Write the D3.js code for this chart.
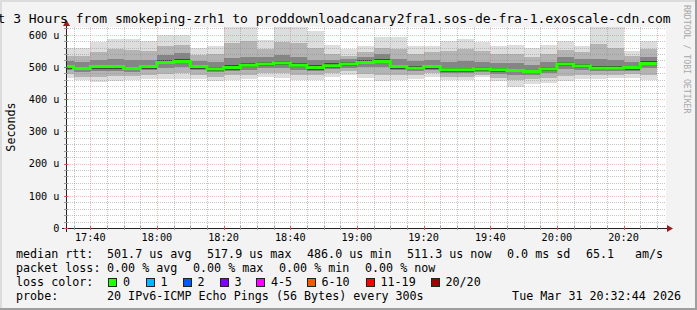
<!DOCTYPE html>
<html>
<head>
<meta charset="utf-8">
<script src="https://cdn.jsdelivr.net/npm/d3@7"></script>
<style>
  html, body { margin: 0; padding: 0; background: #f3f3f3; }
  svg { display: block; }
  text { font-family: "DejaVu Sans Mono", monospace; fill: #000; }
</style>
</head>
<body>
<div id="chart"></div>
<script>
// smokeping graph, 5 minute steps, values in microseconds
const title = "Last 3 Hours from smokeping-zrh1 to proddownloadcanary2fra1.sos-de-fra-1.exoscale-cdn.com";
const median  = [501,495,501,501,495,501,514,517,501,494,498,505,509,512,505,498,504,509,514,517,501,496,501,491,491,494,491,489,486,494,509,503,496,496,498,511];
const pingMax = [559,559,576,587,587,579,598,600,559,566,640,640,584,640,640,611,567,555,564,592,592,566,564,579,588,576,566,569,558,569,579,566,640,640,551,579];
const pingMin = [466,458,452,457,460,462,462,462,462,457,460,462,470,465,460,460,468,476,465,457,460,462,470,460,460,468,455,439,447,450,457,462,462,465,465,460];
const midHi   = [535,534,547,555,553,550,565,568,538,540,575,580,555,578,575,560,540,535,545,560,555,540,545,550,555,548,540,540,530,540,552,545,570,560,535,555];
const midLo   = [478,470,470,472,472,476,478,480,474,470,474,476,482,480,474,474,480,486,478,475,474,474,480,470,470,476,466,460,462,466,472,476,476,476,478,476];
const innerHi = [518,514,522,525,522,522,538,542,520,515,528,532,530,538,532,522,522,526,532,540,525,518,522,515,518,516,512,512,506,514,530,524,525,522,516,532];
const innerLo = [490,484,488,488,485,490,498,500,489,484,487,492,496,498,492,487,493,498,500,500,489,486,490,480,480,484,478,476,474,482,494,490,486,486,488,496];
const coreHi  = [506,501,507,507,501,507,521,524,507,500,505,512,516,519,512,505,511,516,521,524,507,502,507,497,497,500,497,495,492,500,516,510,502,502,504,518];
const coreLo  = [495,489,495,495,489,495,508,511,495,488,492,499,503,506,499,492,498,503,508,511,495,490,495,485,485,488,485,483,480,488,503,497,490,490,492,505];

const yTicks = [0, 100, 200, 300, 400, 500, 600];
const lossLabels = ["0", "1", "2", "3", "4-5", "6-10", "11-19", "20/20"];
const lossColors = ["#26ff00", "#00b8ff", "#0059ff", "#7e00ff", "#ff00ff", "#ff5500", "#ff0000", "#a10000"];
const rttStats = ["501.7 us avg", "517.9 us max", "486.0 us min", "511.3 us now", "0.0 ms sd"];
const lossStats = ["0.00 % avg", "0.00 % max", "0.00 % min", "0.00 % now"];

const width = 697, height = 310;
const plot = { left: 66, right: 666, top: 27, bottom: 228 };
const step = 300 * 1000;
const endTime = new Date(Date.UTC(2026, 2, 31, 20, 32, 44));
const startTime = new Date(+endTime - 3 * 3600 * 1000);
const firstStep = Date.UTC(2026, 2, 31, 17, 30, 0);

const svg = d3.select('#chart').append('svg')
    .attr('width', width)
    .attr('height', height);

// background + 3d border
svg.append('rect').attr('width', width).attr('height', height).attr('fill', '#f3f3f3');
svg.append('rect').attr('x', 0).attr('y', 0).attr('width', width).attr('height', 2).attr('fill', '#dcdcdc');
svg.append('rect').attr('x', 0).attr('y', 0).attr('width', 2).attr('height', height).attr('fill', '#dcdcdc');
svg.append('rect').attr('x', 0).attr('y', height - 2).attr('width', width).attr('height', 2).attr('fill', '#9e9e9e');
svg.append('rect').attr('x', width - 2).attr('y', 0).attr('width', 2).attr('height', height).attr('fill', '#9e9e9e');

const x = d3.scaleUtc().domain([startTime, endTime]).range([plot.left, plot.right]);
const y = d3.scaleLinear().domain([0, 624]).range([plot.bottom, plot.top]);

svg.append('rect')
    .attr('x', plot.left).attr('y', plot.top)
    .attr('width', plot.right - plot.left).attr('height', plot.bottom - plot.top)
    .attr('fill', '#fff');

svg.append('clipPath').attr('id', 'clip')
  .append('rect')
    .attr('x', plot.left).attr('y', plot.top)
    .attr('width', plot.right - plot.left).attr('height', plot.bottom - plot.top);

const cols = median.map((m, i) => ({
    t0: new Date(firstStep + i * step),
    t1: new Date(firstStep + (i + 1) * step),
    i: i
}));

// smoke, outer band first
const bands = [
    { lo: pingMin, hi: pingMax, color: '#dddddd' },
    { lo: midLo, hi: midHi, color: '#b4b4b4' },
    { lo: innerLo, hi: innerHi, color: '#858585' },
    { lo: coreLo, hi: coreHi, color: '#454545' }
];
const smoke = svg.append('g').attr('clip-path', 'url(#clip)');
bands.forEach(b => {
    smoke.append('g').selectAll('rect')
        .data(cols)
        .enter()
        .append('rect')
        .attr('x', d => x(d.t0))
        .attr('width', d => x(d.t1) - x(d.t0))
        .attr('y', d => y(b.hi[d.i]))
        .attr('height', d => y(b.lo[d.i]) - y(b.hi[d.i]))
        .attr('fill', b.color)
        .attr('shape-rendering', 'crispEdges');
});

// grid on top of the smoke
const grid = svg.append('g').attr('shape-rendering', 'crispEdges');
const minorX = x.ticks(d3.utcMinute.every(5));
const majorX = x.ticks(d3.utcMinute.every(20));
const minorY = d3.range(20, 621, 20).filter(v => v % 100 !== 0);
const minorColor = 'rgba(140,140,140,0.5)';
const majorColor = 'rgba(240,90,90,0.42)';

grid.selectAll('.vminor').data(minorX.filter(t => t.getUTCMinutes() % 20 !== 0)).enter()
    .append('line')
    .attr('x1', d => Math.round(x(d)) + 0.5).attr('x2', d => Math.round(x(d)) + 0.5)
    .attr('y1', plot.top).attr('y2', plot.bottom)
    .attr('stroke', minorColor).attr('stroke-dasharray', '1,1');
grid.selectAll('.hminor').data(minorY).enter()
    .append('line')
    .attr('x1', plot.left).attr('x2', plot.right)
    .attr('y1', d => Math.round(y(d)) + 0.5).attr('y2', d => Math.round(y(d)) + 0.5)
    .attr('stroke', minorColor).attr('stroke-dasharray', '1,1');
grid.selectAll('.vmajor').data(majorX).enter()
    .append('line')
    .attr('x1', d => Math.round(x(d)) + 0.5).attr('x2', d => Math.round(x(d)) + 0.5)
    .attr('y1', plot.top).attr('y2', plot.bottom)
    .attr('stroke', majorColor).attr('stroke-dasharray', '1,1');
grid.selectAll('.hmajor').data(yTicks.filter(v => v > 0)).enter()
    .append('line')
    .attr('x1', plot.left).attr('x2', plot.right)
    .attr('y1', d => Math.round(y(d)) + 0.5).attr('y2', d => Math.round(y(d)) + 0.5)
    .attr('stroke', majorColor).attr('stroke-dasharray', '1,1');

// median line (step)
const medPts = [];
cols.forEach(d => {
    medPts.push([d.t0, median[d.i]]);
    medPts.push([d.t1, median[d.i]]);
});
svg.append('path')
    .datum(medPts)
    .attr('clip-path', 'url(#clip)')
    .attr('fill', 'none')
    .attr('stroke', lossColors[0])
    .attr('stroke-width', 3)
    .attr('d', d3.line().x(d => x(d[0])).y(d => y(d[1])));

// axes
const axis = svg.append('g').attr('shape-rendering', 'crispEdges');
axis.append('line').attr('x1', plot.left - 4).attr('x2', plot.right + 3)
    .attr('y1', plot.bottom + 0.5).attr('y2', plot.bottom + 0.5).attr('stroke', '#222');
axis.append('line').attr('x1', plot.left + 0.5).attr('x2', plot.left + 0.5)
    .attr('y1', plot.bottom + 4).attr('y2', plot.top - 3).attr('stroke', '#222');
axis.selectAll('.xt').data(minorX).enter().append('line')
    .attr('x1', d => Math.round(x(d)) + 0.5).attr('x2', d => Math.round(x(d)) + 0.5)
    .attr('y1', plot.bottom - 2).attr('y2', plot.bottom + 2)
    .attr('stroke', d => d.getUTCMinutes() % 20 === 0 ? '#d55' : '#999');
axis.selectAll('.yt').data(d3.range(0, 621, 20)).enter().append('line')
    .attr('x1', plot.left - 2).attr('x2', plot.left + 2)
    .attr('y1', d => Math.round(y(d)) + 0.5).attr('y2', d => Math.round(y(d)) + 0.5)
    .attr('stroke', d => d % 100 === 0 ? '#d55' : '#999');
svg.append('path').attr('d', `M${plot.right + 1},${plot.bottom - 3}L${plot.right + 7},${plot.bottom + 0.5}L${plot.right + 1},${plot.bottom + 4}Z`)
    .attr('fill', '#9b1c1c');
svg.append('path').attr('d', `M${plot.left - 3},${plot.top - 1}L${plot.left + 0.5},${plot.top - 7}L${plot.left + 4},${plot.top - 1}Z`)
    .attr('fill', '#9b1c1c');

const fmtTime = d3.utcFormat('%H:%M');
svg.append('g').selectAll('text').data(majorX).enter().append('text')
    .attr('x', d => x(d)).attr('y', 241)
    .attr('text-anchor', 'middle')
    .style('font-size', '10.2px')
    .text(d => fmtTime(d));
svg.append('g').selectAll('text').data(yTicks).enter().append('text')
    .attr('x', 59.5).attr('y', d => y(d) + 3.8)
    .attr('text-anchor', 'end')
    .style('font-size', '10.2px')
    .text(d => d === 0 ? '0' : d + ' u');

svg.append('text')
    .attr('transform', 'translate(14.5,127) rotate(-90)')
    .attr('text-anchor', 'middle')
    .style('font-size', '11.7px')
    .text('Seconds');

svg.append('text')
    .attr('x', -26).attr('y', 23)
    .style('font-size', '13px')
    .text(title);

svg.append('text')
    .attr('transform', 'translate(683.5,5) rotate(90)')
    .style('font-size', '8.2px')
    .style('fill', '#a8a8a8')
    .text('RRDTOOL / TOBI OETIKER');

// legend
const lg = svg.append('g').style('font-size', '11.7px').attr('xml:space', 'preserve');
lg.append('text').attr('x', 16).attr('y', 258).text('median rtt:');
lg.selectAll('.rtt').data(rttStats).enter().append('text')
    .attr('x', (d, i) => 107 + i * 100).attr('y', 258).text(d => d);
lg.append('text').attr('x', 586).attr('y', 258).text('65.1');
lg.append('text').attr('x', 635).attr('y', 258).text('am/s');

lg.append('text').attr('x', 16).attr('y', 272).text('packet loss:');
lg.selectAll('.loss').data(lossStats).enter().append('text')
    .attr('x', (d, i) => 107 + i * 86).attr('y', 272).text(d => d);

lg.append('text').attr('x', 16).attr('y', 286).text('loss color:');
const swX = [108, 145.5, 182.5, 219.5, 256, 306.5, 365.5, 430.5];
const sw = lg.selectAll('.sw').data(lossLabels).enter().append('g')
    .attr('transform', (d, i) => `translate(${swX[i]},278)`);
sw.append('rect').attr('x', 0.5).attr('y', 0.5).attr('width', 8).attr('height', 8)
    .attr('fill', (d, i) => lossColors[i]).attr('stroke', '#222').attr('shape-rendering', 'crispEdges');
sw.append('text').attr('x', 15).attr('y', 8).text(d => d);

lg.append('text').attr('x', 16).attr('y', 300).text('probe:');
lg.append('text').attr('x', 107).attr('y', 300).text('20 IPv6-ICMP Echo Pings (56 Bytes) every 300s');
lg.append('text').attr('x', 681).attr('y', 300).attr('text-anchor', 'end').text('Tue Mar 31 20:32:44 2026');
</script>
</body>
</html>
